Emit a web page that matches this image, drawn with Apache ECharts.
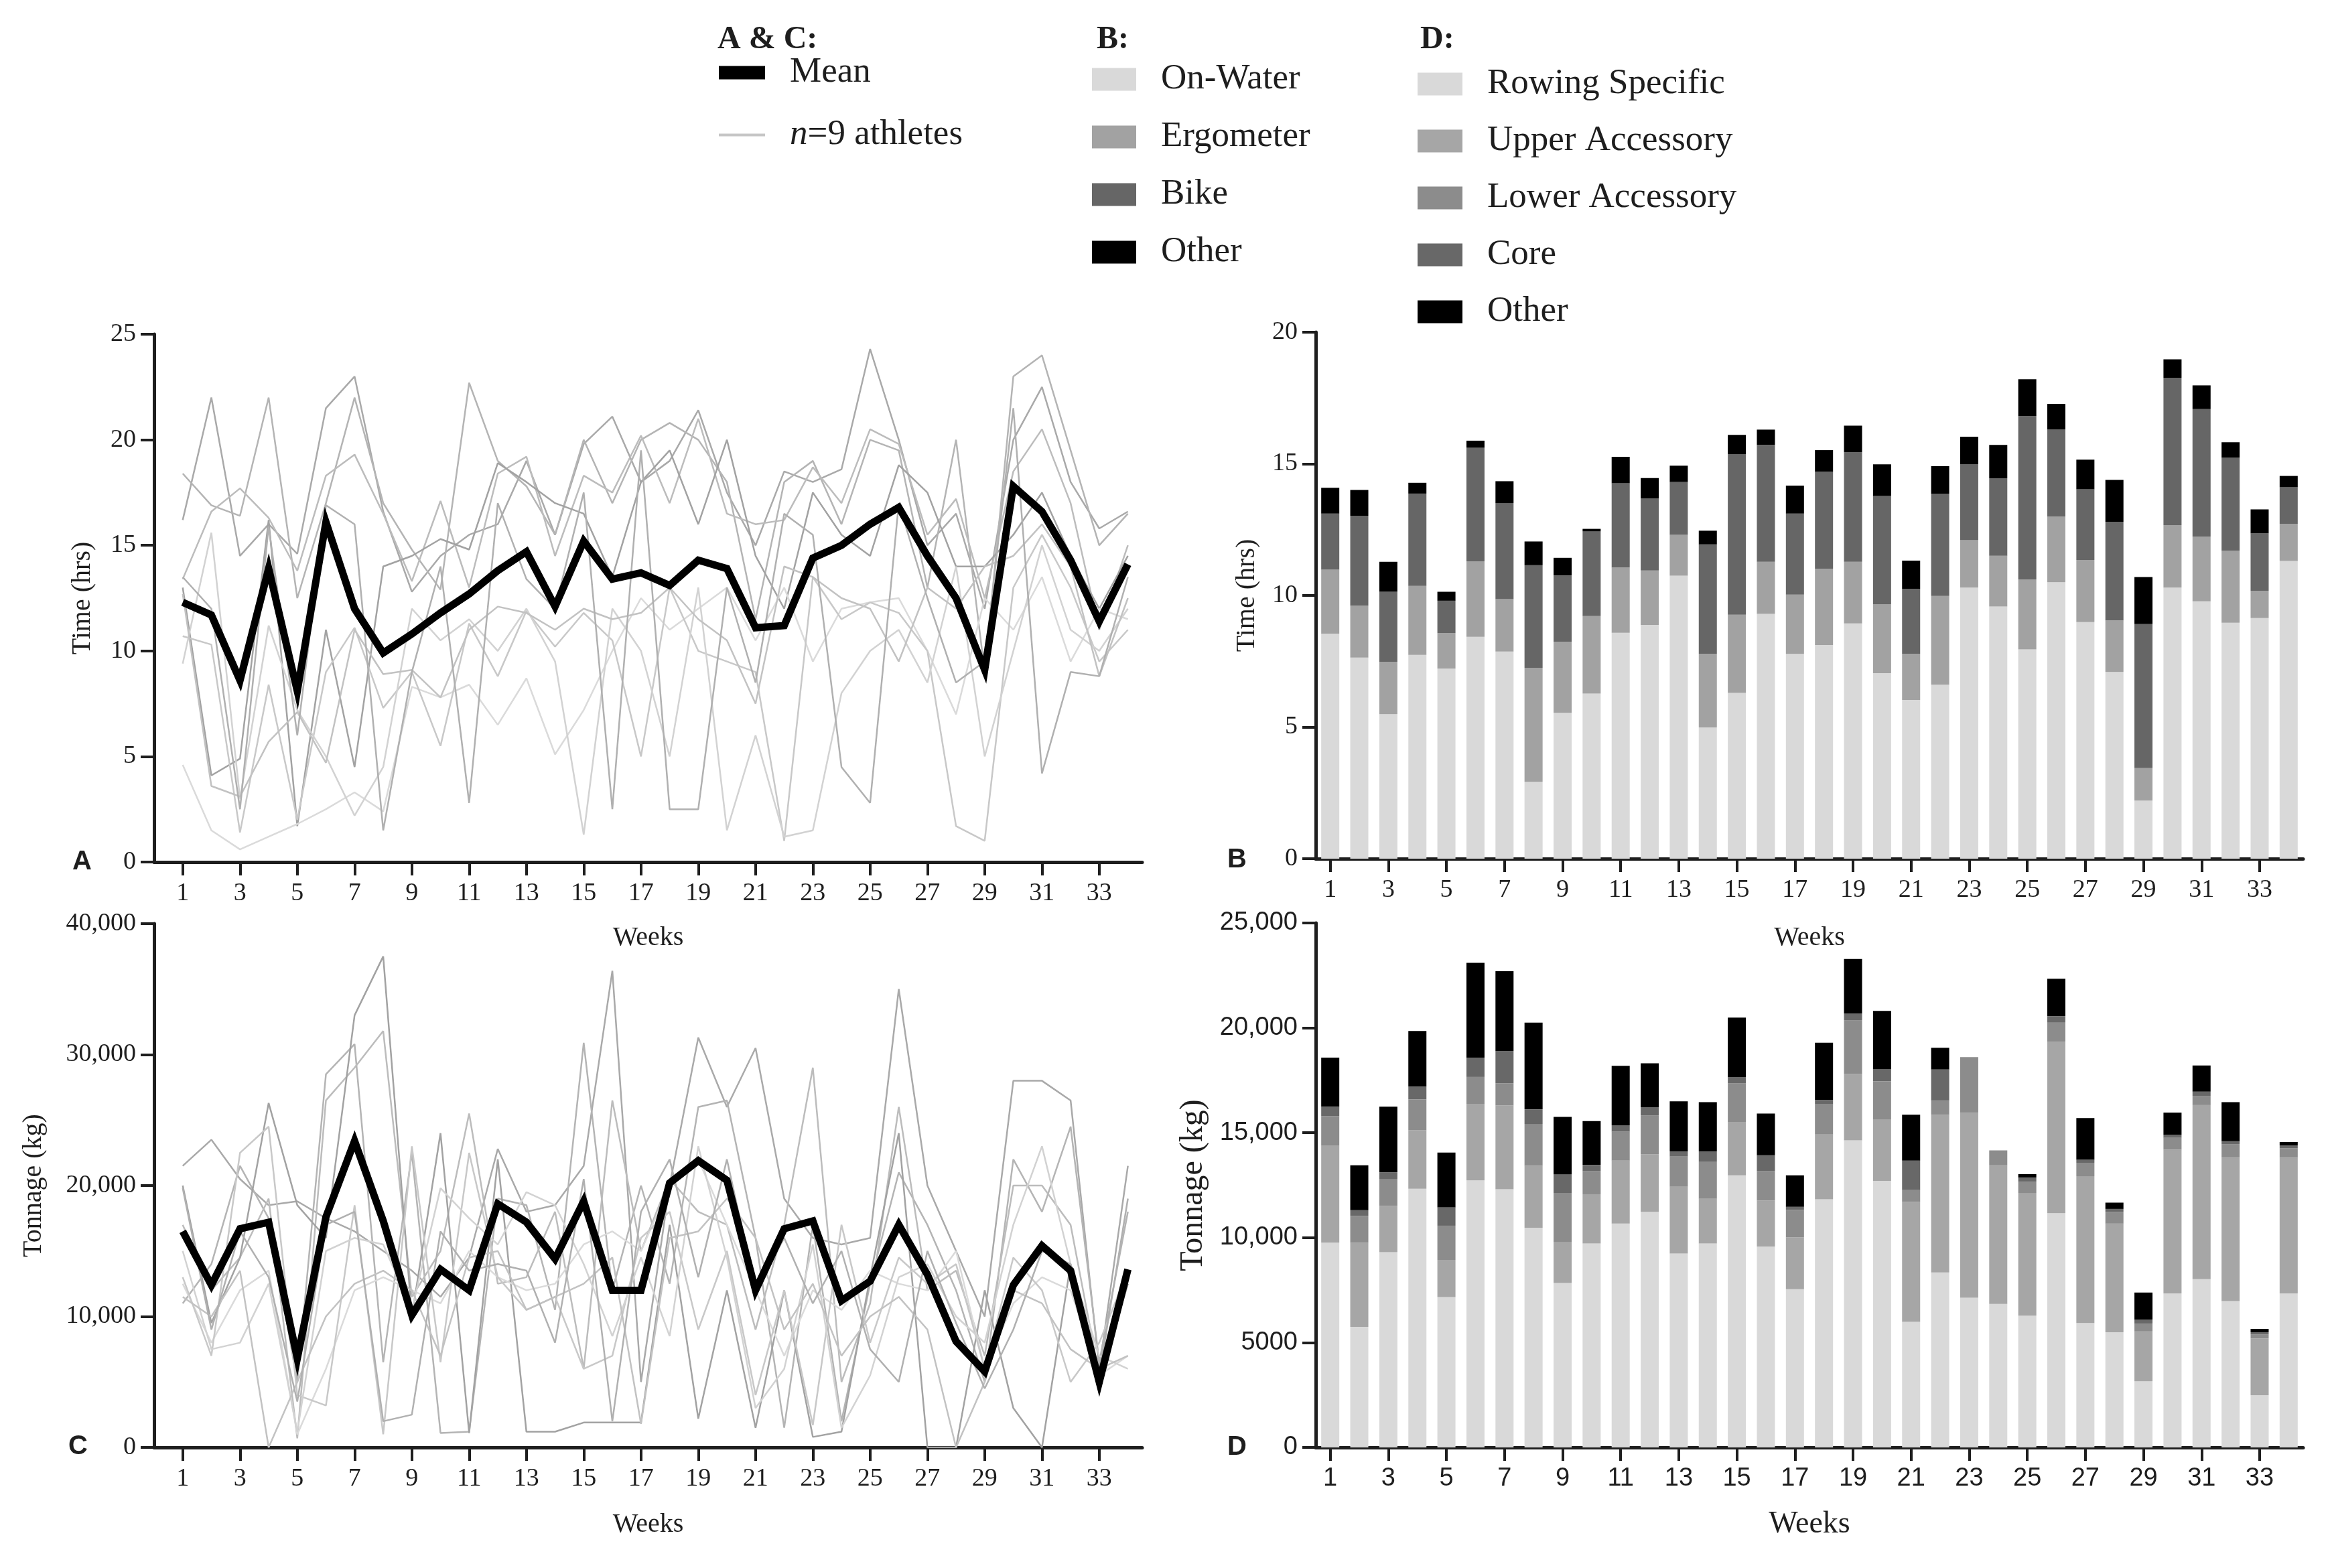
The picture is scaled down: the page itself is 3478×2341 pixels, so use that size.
<!DOCTYPE html>
<html>
<head>
<meta charset="utf-8">
<script src="https://cdn.jsdelivr.net/npm/echarts@6/dist/echarts.min.js"></script>
<style>
html,body{margin:0;padding:0;background:#ffffff;}
#chart{width:3478px;height:2341px;}
</style>
</head>
<body>
<div id="chart"></div>
<script>
// ---------------- data ----------------
const weeks = [1,2,3,4,5,6,7,8,9,10,11,12,13,14,15,16,17,18,19,20,21,22,23,24,25,26,27,28,29,30,31,32,33,34];
const oddWeekTicks = [1,3,5,7,9,11,13,15,17,19,21,23,25,27,29,31,33];

// Panel A: weekly training time (hrs)
const meanTimeHrs = [12.3,11.7,8.6,13.9,8.1,16.1,12.0,9.9,10.8,11.8,12.7,13.8,14.7,12.1,15.2,13.4,13.7,13.1,14.3,13.9,11.1,11.2,14.4,15.0,16.0,16.8,14.5,12.5,9.1,17.8,16.6,14.3,11.4,14.1];
const athleteTime1 = [16.2,22.0,14.5,16.0,14.6,21.5,23.0,16.6,12.8,14.5,15.5,16.0,19.0,15.5,19.8,21.1,18.0,19.0,21.4,17.5,15.0,18.5,18.0,18.6,24.3,20.0,15.0,16.5,12.0,20.0,22.5,18.0,15.8,16.6];
const athleteTime2 = [18.4,16.9,16.4,22.0,12.5,17.0,22.0,17.0,14.8,12.9,22.7,19.0,17.8,15.5,20.0,17.0,20.0,20.8,20.0,18.0,11.5,18.0,19.0,16.0,20.0,19.5,13.0,20.0,9.0,23.0,24.0,19.5,15.0,16.5];
const athleteTime3 = [13.4,16.6,17.7,16.3,13.8,18.3,19.3,16.5,13.3,17.1,13.0,18.4,19.2,14.5,18.3,17.5,20.2,17.0,21.0,16.5,16.0,16.2,18.7,17.0,20.5,19.8,15.5,17.2,12.5,18.5,20.5,17.0,11.0,15.0];
const athleteTime4 = [13.0,4.1,4.9,16.2,1.7,11.0,4.5,14.0,14.5,15.3,14.8,18.9,18.0,17.0,16.5,13.5,18.0,19.5,16.0,20.0,14.5,12.0,17.5,15.5,14.5,18.8,17.5,14.0,14.0,15.5,17.5,14.5,12.0,14.5];
const athleteTime5 = [4.6,1.5,0.6,1.2,1.8,2.5,3.3,2.4,8.3,7.8,8.4,6.5,8.7,5.1,7.2,10.0,12.5,11.0,12.0,13.0,10.5,13.0,9.5,12.0,12.3,12.5,10.0,7.0,12.5,11.0,13.5,9.5,12.0,11.5];
const athleteTime6 = [10.7,10.3,1.4,8.4,2.0,9.0,11.1,7.3,9.0,5.5,11.3,8.8,11.9,10.2,11.8,10.5,5.0,13.0,10.0,9.5,9.0,1.0,13.5,11.5,12.3,11.8,10.0,1.7,1.0,13.0,15.5,13.0,9.5,11.0];
const athleteTime7 = [9.4,15.6,3.0,11.2,7.2,5.0,2.2,4.5,12.0,10.5,11.5,10.0,12.0,9.5,1.3,12.0,10.0,5.0,13.0,1.5,6.0,1.2,1.5,8.0,10.0,11.0,8.5,14.0,5.0,10.0,15.0,11.0,10.0,12.0];
const athleteTime8 = [12.7,3.6,3.1,5.7,7.1,4.7,11.0,8.9,9.1,7.8,11.0,12.1,11.8,11.0,12.0,11.5,11.8,13.0,11.5,10.5,7.5,14.0,13.5,12.5,12.0,9.5,13.0,12.0,14.0,14.5,16.0,14.0,8.8,12.5];
const athleteTime9 = [13.5,12.0,2.5,15.9,6.0,16.9,16.0,1.5,9.0,14.0,2.8,17.0,13.4,12.0,17.5,2.5,19.5,2.5,2.5,13.0,8.5,16.5,15.5,4.5,2.8,17.0,12.5,8.5,9.5,21.5,4.2,9.0,8.8,13.5];

// Panel C: weekly tonnage (kg)
const meanTonnageKg = [16500,12400,16700,17200,6800,17600,23400,17300,10100,13600,12000,18600,17200,14400,18800,12000,12000,20200,21900,20400,12000,16700,17300,11200,12700,17000,13200,8100,5800,12400,15400,13500,5000,13600];
const athleteTonnage1 = [21500,23500,20500,18500,18800,17500,16500,15000,13500,11500,14500,22800,18000,18500,21500,36400,5000,20000,31300,26000,30500,19000,16000,15500,16000,35000,20000,15000,10000,28000,28000,26500,6000,21500];
const athleteTonnage2 = [11000,14000,21500,17500,5000,28500,30800,6500,22500,1100,1200,19000,18500,10500,30900,12000,20000,12500,26000,26500,16000,1500,17000,2000,12500,21000,17000,12000,5000,22000,18000,24500,6500,18000];
const athleteTonnage3 = [17000,12000,14500,19000,700,26500,29000,31800,11500,15000,25500,12500,13000,18000,6000,26500,15000,20500,18000,17000,9000,17000,29000,5000,11000,26000,12000,13500,7000,20000,20000,17000,5500,12500];
const athleteTonnage4 = [20000,9500,14500,26300,18500,16000,33000,37500,10000,24000,1100,22000,1200,1200,1900,1900,1900,17000,2200,12000,1500,12000,800,1200,13000,24000,0,0,12000,3000,0,14000,5000,12500];
const athleteTonnage5 = [12500,8000,12000,13500,1000,6000,12000,13000,12000,11000,15000,13000,12000,12500,15500,16500,15000,20000,22000,17000,12000,7000,12000,10500,13500,12500,12000,15000,6000,11000,13000,12000,5500,7000];
const athleteTonnage6 = [13000,7000,22500,24500,4000,3200,18500,1000,23000,6500,22500,13000,10500,11500,6000,7000,16000,18000,9000,15000,4000,12000,1700,17000,8000,14500,12500,14000,6000,14500,12000,5000,8000,13500];
const athleteTonnage7 = [15000,7500,8000,12500,1200,15000,16000,15500,10500,19800,17500,15500,19500,18500,14000,8500,14500,8500,23000,14500,3000,6000,15500,1500,5500,13000,14000,10000,8000,17000,23000,14000,7000,6000];
const athleteTonnage8 = [11500,10000,13500,0,5000,10000,12500,13500,12000,7000,14500,15000,10500,11500,12500,14500,1800,16000,16500,19000,16000,9000,12500,7000,10000,11500,9000,0,5000,12000,11000,7500,6000,7000];
const athleteTonnage9 = [19800,9000,16500,13000,3500,17000,18000,2000,2500,16500,13500,14000,13500,8000,20500,2000,18000,22000,13000,22000,12000,16000,11000,15000,7500,5000,15000,9500,4500,9000,15000,14000,5500,19000];

// Panel B: time by mode (hrs), stacked
const onWaterHrs   = [8.55,7.64,5.49,7.74,7.22,8.43,7.87,2.92,5.54,6.27,8.58,8.88,10.75,4.99,6.30,9.30,7.78,8.12,8.94,7.05,6.03,6.61,10.30,9.58,7.95,10.50,8.99,7.09,2.21,10.30,9.78,8.96,9.14,11.31];
const ergometerHrs = [2.43,1.97,1.99,2.62,1.35,2.86,1.99,4.33,2.70,2.95,2.48,2.07,1.55,2.79,2.97,1.98,2.25,2.89,2.34,2.62,1.75,3.37,1.80,1.93,2.66,2.50,2.36,1.96,1.23,2.37,2.46,2.74,1.03,1.41];
const bikeHrs      = [2.13,3.42,2.66,3.51,1.23,4.32,3.65,3.90,2.52,3.22,3.20,2.74,2.01,4.16,6.10,4.44,3.08,3.69,4.16,4.11,2.47,3.89,2.89,2.94,6.20,3.31,2.68,3.75,5.47,5.60,4.84,3.54,2.19,1.39];
const otherHrs     = [0.98,0.98,1.14,0.41,0.34,0.27,0.83,0.90,0.67,0.09,1.01,0.77,0.62,0.52,0.73,0.58,1.06,0.82,1.01,1.20,1.07,1.04,1.04,1.27,1.40,0.97,1.13,1.59,1.79,0.70,0.90,0.58,0.91,0.43];

// Panel D: tonnage by exercise type (kg), stacked
const rowingSpecificKg = [9760,5750,9310,12330,7170,12730,12310,10470,7840,9720,10670,11230,9240,9720,12970,9580,7540,11830,14640,12710,5990,8340,7140,6840,6280,11170,5930,5490,3150,7340,8020,6980,2490,7340];
const upperAccessoryKg = [4640,4010,2200,2790,1770,3650,3990,2960,1940,2350,3000,2740,3190,2130,2550,2190,2480,3090,3160,2910,5720,7520,8820,6630,5850,8180,7000,5180,2380,6860,8300,6830,2700,6470];
const lowerAccessoryKg = [1390,1280,1270,1470,1630,1280,1060,1990,2330,1100,1390,1850,1440,1780,1840,1400,1310,1440,2550,1840,560,660,2650,690,540,900,640,560,360,560,440,650,200,450];
const coreKg           = [450,270,340,610,880,920,1530,700,900,300,300,400,240,480,300,760,140,200,340,560,1400,1500,0,0,200,300,140,140,200,140,200,140,100,140];
const otherKg          = [2340,2140,3120,2650,2610,4520,3810,4130,2750,2090,2830,2090,2390,2350,2830,1990,1500,2730,2590,2790,2190,1030,0,0,160,1790,1990,300,1290,1060,1250,1860,160,160];

// ---------------- chart ----------------
const SERIF = 'Liberation Serif';
const SANS = 'Liberation Sans';
const INK = '#1e1e1e';

const pairs = arr => weeks.map((w, i) => [w, arr[i]]);
const fmtThousands = v => v >= 10000 ? String(v).replace(/\B(?=(\d{3})+(?!\d))/g, ',') : String(v);

function xLineAxis(gridIndex, nameGap) {
  return {
    type: 'value', gridIndex, min: 0, max: 34.5,
    axisLine: { show: true, onZero: false, lineStyle: { color: INK, width: 5 } },
    axisTick: { show: true, length: 20, customValues: oddWeekTicks, lineStyle: { color: INK, width: 4 } },
    axisLabel: { customValues: oddWeekTicks, fontFamily: SERIF, fontSize: 38, color: INK, margin: 28 },
    splitLine: { show: false },
    name: 'Weeks', nameLocation: 'middle', nameGap,
    nameTextStyle: { fontFamily: SERIF, fontSize: 40, color: INK }
  };
}
function xBarAxis(gridIndex, labelFont, labelSize, nameSize, nameGap) {
  return {
    type: 'category', gridIndex, data: weeks, boundaryGap: true,
    axisLine: { show: true, onZero: false, lineStyle: { color: INK, width: 5 } },
    axisTick: { show: true, length: 20, interval: 1, alignWithLabel: true, lineStyle: { color: INK, width: 4 } },
    axisLabel: { interval: 1, fontFamily: labelFont, fontSize: labelSize, color: INK, margin: 28 },
    splitLine: { show: false },
    name: 'Weeks', nameLocation: 'middle', nameGap,
    nameTextStyle: { fontFamily: SERIF, fontSize: nameSize, color: INK }
  };
}
function yAxis(gridIndex, max, interval, name, nameGap, labelFont, labelSize, nameSize) {
  return {
    type: 'value', gridIndex, min: 0, max, interval,
    axisLine: { show: true, onZero: false, lineStyle: { color: INK, width: 5 } },
    axisTick: { show: true, length: 20, lineStyle: { color: INK, width: 4 } },
    axisLabel: { fontFamily: labelFont, fontSize: labelSize, color: INK, margin: 27, formatter: fmtThousands },
    splitLine: { show: false },
    name, nameLocation: 'middle', nameRotate: 90, nameGap,
    nameTextStyle: { fontFamily: SERIF, fontSize: nameSize, color: INK }
  };
}

const athleteColors = ['#a9a9a9','#b4b4b4','#bcbcbc','#a2a2a2','#dadada','#c8c8c8','#d2d2d2','#c2c2c2','#b0b0b0'];
const athleteTimes = [athleteTime1,athleteTime2,athleteTime3,athleteTime4,athleteTime5,athleteTime6,athleteTime7,athleteTime8,athleteTime9];
const athleteTonnages = [athleteTonnage1,athleteTonnage2,athleteTonnage3,athleteTonnage4,athleteTonnage5,athleteTonnage6,athleteTonnage7,athleteTonnage8,athleteTonnage9];

const series = [];
function athleteSeries(arr, idx, axisIndex) {
  return {
    name: 'n=9 athletes', type: 'line', xAxisIndex: axisIndex, yAxisIndex: axisIndex,
    data: pairs(arr), symbol: 'none', z: 2, silent: true,
    itemStyle: { color: athleteColors[idx] },
    lineStyle: { color: athleteColors[idx], width: 2.5 }
  };
}
function meanSeries(arr, axisIndex) {
  return {
    name: 'Mean', type: 'line', xAxisIndex: axisIndex, yAxisIndex: axisIndex,
    data: pairs(arr), symbol: 'none', z: 5, silent: true,
    itemStyle: { color: '#000000' },
    lineStyle: { color: '#000000', width: 11, join: 'miter' }
  };
}
athleteTimes.forEach((a, i) => series.push(athleteSeries(a, i, 0)));
series.push(meanSeries(meanTimeHrs, 0));
athleteTonnages.forEach((a, i) => series.push(athleteSeries(a, i, 2)));
series.push(meanSeries(meanTonnageKg, 2));

function barSeries(name, arr, color, axisIndex, stack) {
  return {
    name, type: 'bar', stack, xAxisIndex: axisIndex, yAxisIndex: axisIndex,
    data: arr, barWidth: 27, silent: true,
    itemStyle: { color }
  };
}
series.push(barSeries('On-Water', onWaterHrs, '#d9d9d9', 1, 'B'));
series.push(barSeries('Ergometer', ergometerHrs, '#a2a2a2', 1, 'B'));
series.push(barSeries('Bike', bikeHrs, '#666666', 1, 'B'));
series.push(barSeries('Other', otherHrs, '#000000', 1, 'B'));
series.push(barSeries('Rowing Specific', rowingSpecificKg, '#d9d9d9', 3, 'D'));
series.push(barSeries('Upper Accessory', upperAccessoryKg, '#a6a6a6', 3, 'D'));
series.push(barSeries('Lower Accessory', lowerAccessoryKg, '#8c8c8c', 3, 'D'));
series.push(barSeries('Core', coreKg, '#686868', 3, 'D'));
series.push(barSeries('Other', otherKg, '#000000', 3, 'D'));

const legendText = { fontFamily: SERIF, fontSize: 53, color: INK, padding: [0, 0, 0, 32] };

const option = {
  backgroundColor: '#ffffff',
  animation: false,
  title: [
    { text: 'A & C:', left: 1071, top: 36, padding: 0, textStyle: { fontFamily: SERIF, fontWeight: 'bold', fontSize: 48, lineHeight: 48, color: INK } },
    { text: 'B:', left: 1637, top: 36, padding: 0, textStyle: { fontFamily: SERIF, fontWeight: 'bold', fontSize: 48, lineHeight: 48, color: INK } },
    { text: 'D:', left: 2120, top: 36, padding: 0, textStyle: { fontFamily: SERIF, fontWeight: 'bold', fontSize: 48, lineHeight: 48, color: INK } },
    { text: 'A', left: 108, top: 1267, padding: 0, textStyle: { fontFamily: SANS, fontWeight: 'bold', fontSize: 40, lineHeight: 40, color: INK } },
    { text: 'B', left: 1832, top: 1264, padding: 0, textStyle: { fontFamily: SANS, fontWeight: 'bold', fontSize: 40, lineHeight: 40, color: INK } },
    { text: 'C', left: 102, top: 2140, padding: 0, textStyle: { fontFamily: SANS, fontWeight: 'bold', fontSize: 40, lineHeight: 40, color: INK } },
    { text: 'D', left: 1832, top: 2141, padding: 0, textStyle: { fontFamily: SANS, fontWeight: 'bold', fontSize: 40, lineHeight: 40, color: INK } }
  ],
  legend: [
    { data: ['Mean'], left: 1073, top: 82, padding: 0, itemWidth: 69, itemHeight: 20, icon: 'rect', selectedMode: false, textStyle: legendText },
    { data: [{ name: 'n=9 athletes', itemStyle: { color: '#c6c6c6' } }], left: 1073, top: 175, padding: 0, itemWidth: 69, itemHeight: 4, icon: 'rect', selectedMode: false,
      formatter: () => '{i|n}=9 athletes',
      textStyle: Object.assign({}, legendText, { rich: { i: { fontFamily: SERIF, fontStyle: 'italic', fontSize: 53, color: INK } } }) },
    { data: ['On-Water','Ergometer','Bike','Other'], orient: 'vertical', left: 1630, top: 92, padding: 0, itemWidth: 66, itemHeight: 34, itemGap: 33, icon: 'rect', selectedMode: false, textStyle: legendText },
    { data: ['Rowing Specific','Upper Accessory','Lower Accessory','Core','Other'], orient: 'vertical', left: 2116, top: 99, padding: 0, itemWidth: 67, itemHeight: 34, itemGap: 32, icon: 'rect', selectedMode: false, textStyle: legendText }
  ],
  grid: [
    { left: 230, right: 1773, top: 499, bottom: 1054, containLabel: false },
    { left: 1964, right: 40, top: 496, bottom: 1059, containLabel: false },
    { left: 230, right: 1773, top: 1379, bottom: 180, containLabel: false },
    { left: 1964, right: 40, top: 1378, bottom: 180, containLabel: false }
  ],
  xAxis: [
    xLineAxis(0, 93),
    xBarAxis(1, SERIF, 38, 40, 98),
    xLineAxis(2, 95),
    xBarAxis(3, SANS, 38, 46, 92)
  ],
  yAxis: [
    yAxis(0, 25, 5, 'Time (hrs)', 87, SERIF, 38, 40),
    yAxis(1, 20, 5, 'Time (hrs)', 83, SERIF, 38, 40),
    yAxis(2, 40000, 10000, 'Tonnage (kg)', 160, SERIF, 38, 40),
    yAxis(3, 25000, 5000, 'Tonnage (kg)', 159, SANS, 38, 48)
  ],
  series
};

const chart = echarts.init(document.getElementById('chart'), null, { renderer: 'canvas', width: 3478, height: 2341 });
chart.setOption(option);
</script>
</body>
</html>
